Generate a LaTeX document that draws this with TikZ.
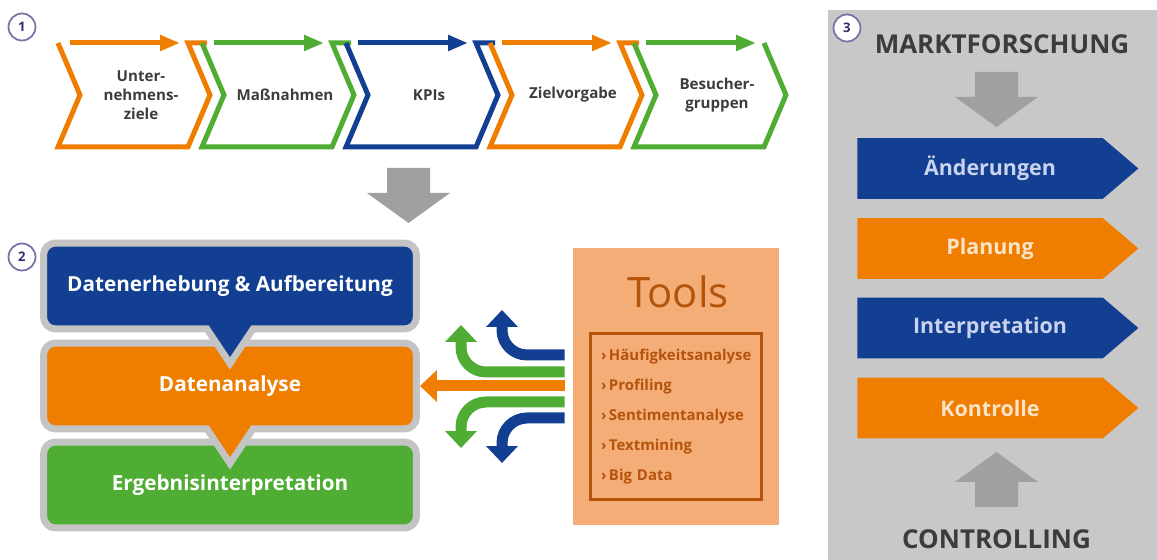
\documentclass[tikz,border=0pt]{standalone}
\usepackage{fontspec}
\setmainfont{Open Sans}
\usetikzlibrary{arrows.meta, positioning, shapes.symbols}

\definecolor{kblue}{HTML}{123F92}
\definecolor{korange}{HTML}{EF7D00}
\definecolor{kgreen}{HTML}{4FAD33}
\definecolor{kframe}{HTML}{C4C4C4}
\definecolor{kpanel}{HTML}{C8C8C8}
\definecolor{karrow}{HTML}{A0A0A0}
\definecolor{ktools}{HTML}{F5AD78}
\definecolor{ktext}{HTML}{B4530C}
\definecolor{kdark}{HTML}{3C3C3C}
\definecolor{kring}{HTML}{7B6FA8}
\definecolor{kpurple}{HTML}{3B2A6E}
\definecolor{kbluetxt}{HTML}{C9D3EE}
\definecolor{korangetxt}{HTML}{FDE3C8}

\begin{document}
\begin{tikzpicture}[x=0.02cm, y=-0.02cm,
  chev/.style={line width=0.1cm, line join=miter},
  toparrow/.style={line width=0.1cm, -{Triangle[length=0.4cm, width=0.3cm]}},
  chevlabel/.style={align=center, text=kdark, font=\fontsize{8.6}{10.8}\selectfont\bfseries},
  stage/.style={rectangle, rounded corners=0.24cm, draw=kframe, line width=0.14cm, minimum width=7.46cm, minimum height=1.72cm, text=white, font=\fontsize{11.8}{14}\selectfont\bfseries},
  pointer/.style={line width=0.28cm, draw=kframe, line join=miter},
  fork/.style={line width=0.22cm, rounded corners=0.5cm, -{Triangle[length=0.34cm, width=0.62cm]}},
  phase/.style={signal, signal to=east, signal pointer angle=81, minimum width=5.62cm, minimum height=1.22cm, font=\fontsize{12.2}{14}\selectfont\bfseries},
  heading/.style={text=kdark, font=\fontsize{14.8}{17}\selectfont\bfseries},
  num/.style={circle, draw=kring, line width=0.035cm, fill=white, minimum size=0.54cm, inner sep=0pt, text=kpurple, font=\fontsize{7.5}{8}\selectfont\bfseries},
  bigarrow/.pic={\fill[karrow] (-21.5,0) -- (21.5,0) -- (21.5,25) -- (41.5,25) -- (0,55) -- (-41.5,25) -- (-21.5,25) -- cycle;}
]
\useasboundingbox (0,0) rectangle (1157,560);

% 1: chevrons
\node[num] (n1) at (22,27) {1};
\foreach \xa/\col/\tb/\txt [count=\i] in {58/korange/19/{Unter-\\nehmens-\\ziele}, 202/kgreen/19/Maßnahmen, 346/kblue/19/KPIs, 490/korange/19/Zielvorgabe, 634/kgreen/0/{Besucher-\\gruppen}} {
  \draw[chev, draw=\col] (\xa,43) -- ++(22,52) -- ++(-22,52) -- ++(130,0) -- ++(22,-52) -- ++(-22,-52) -- ++(\tb,0);
  \draw[toparrow, draw=\col] (\xa+12,43) -- (\xa+122,43);
  \node[chevlabel] (goal\i) at (\xa+83,95) {\txt};
}
\pic at (408.5,168) {bigarrow};

% 2: analysis steps
\node[num] (n2) at (22,257) {2};
\node[stage, fill=kblue] (collect) at (230,286) {Datenerhebung \& Aufbereitung};
\node[stage, fill=korange] (analyse) at (230,386) {Datenanalyse};
\node[stage, fill=kgreen] (result) at (230,485) {Ergebnisinterpretation};
\draw[pointer] (210,327) -- (230,357) -- (250,327);
\fill[kblue] (205.3,320) -- (230,357) -- (254.7,320) -- cycle;
\draw[pointer] (210,427) -- (230,457) -- (250,427);
\fill[korange] (205.3,420) -- (230,457) -- (254.7,420) -- cycle;

% tools
\node[rectangle, fill=ktools, minimum width=4.12cm, minimum height=5.54cm] (tools) at (676,386.5) {};
\node[text=ktext, font=\fontsize{23.8}{28}\selectfont] (toolstitle) at (678,292) {Tools};
\node[draw=ktext, line width=0.06cm, minimum width=3.44cm, minimum height=3.34cm, text width=3.0cm, align=left, text=ktext, font=\fontsize{8.5}{17.15}\selectfont\bfseries] (toollist) at (676,416.5)
  {›\,Häufigkeitsanalyse\\›\,Profiling\\›\,Sentimentanalyse\\›\,Textmining\\›\,Big Data};
\coordinate (tw) at ([xshift=-0.16cm]tools.west);
\draw[fork, kblue] (tw |- 0,355) -| (502,310);
\draw[fork, kgreen] (tw |- 0,372) -| (461,325);
\draw[fork, korange] (tw |- analyse.east) -- (analyse.east);
\draw[fork, kgreen] (tw |- 0,402) -| (461,448);
\draw[fork, kblue] (tw |- 0,418) -| (502,463);

% 3: market research
\fill[kpanel] (828,10) rectangle (1157,560);
\node[num] (n3) at (847,28) {3};
\node[heading] (research) at (1002,44) {MARKTFORSCHUNG};
\pic at (996.5,72) {bigarrow};
\node[phase, fill=kblue, text=kbluetxt] (change) at (980,168.5) {\hspace*{0.4cm}Änderungen};
\node[phase, fill=korange, text=korangetxt] (plan) at (980,248.5) {\hspace*{0.4cm}Planung};
\node[phase, fill=kblue, text=kbluetxt] (interp) at (980,328) {\hspace*{0.4cm}Interpretation};
\node[phase, fill=korange, text=korangetxt] (check) at (980,408) {\hspace*{0.4cm}Kontrolle};
\pic[rotate=180] at (996.5,507) {bigarrow};
\node[heading] (control) at (996.5,539) {CONTROLLING};
\end{tikzpicture}
\end{document}
